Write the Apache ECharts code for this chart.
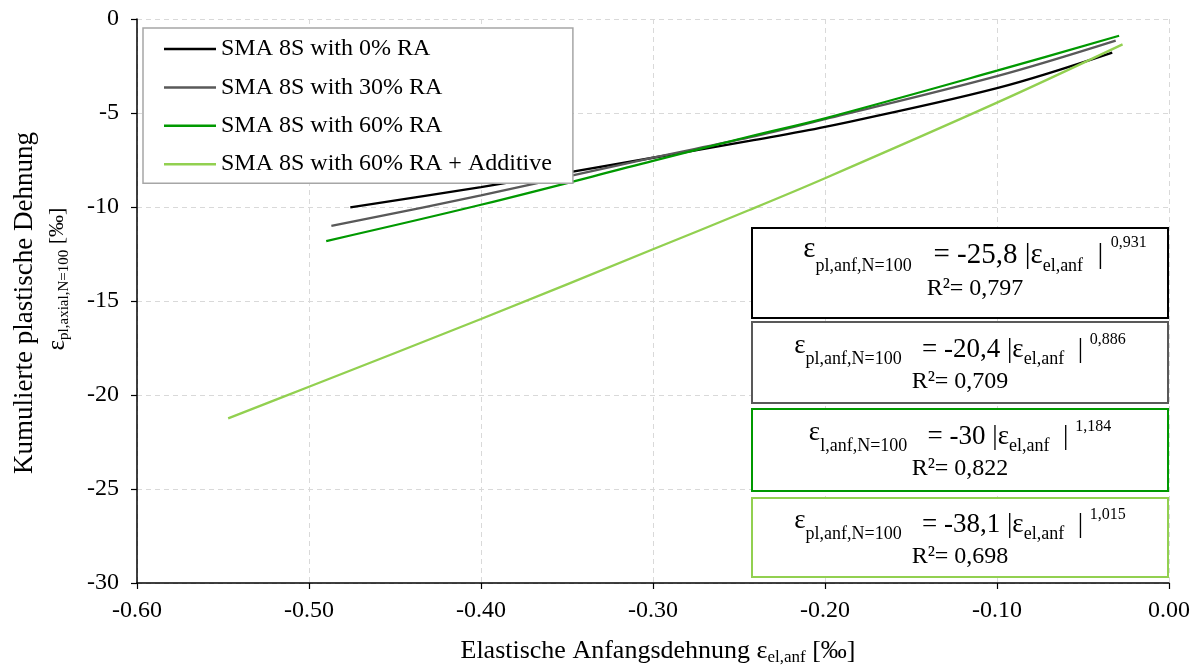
<!DOCTYPE html>
<html>
<head>
<meta charset="utf-8">
<script src="https://cdn.jsdelivr.net/npm/echarts@6/dist/echarts.min.js"></script>
<style>
  html, body { margin: 0; padding: 0; background: #ffffff; }
  #chart { width: 1200px; height: 666px; }
</style>
</head>
<body>
<div id="chart"></div>
<script>
// Fitted curves: initial elastic strain (x, ‰) vs. cumulative plastic strain after N=100 (y, ‰)
const seriesNames = [
  'SMA 8S with 0% RA',
  'SMA 8S with 30% RA',
  'SMA 8S with 60% RA',
  'SMA 8S with 60% RA + Additive'
];
const ra0X  = [-0.476, -0.40, -0.30, -0.244, -0.20, -0.10, -0.033];
const ra0Y  = [-10.02, -8.94, -7.38, -6.48, -5.74, -3.68, -1.79];
const ra30X = [-0.487, -0.40, -0.30, -0.244, -0.20, -0.10, -0.031];
const ra30Y = [-11.01, -9.38, -7.38, -6.30, -5.33, -3.04, -1.15];
const ra60X = [-0.490, -0.40, -0.30, -0.244, -0.20, -0.10, -0.029];
const ra60Y = [-11.81, -9.88, -7.55, -6.25, -5.28, -2.75, -0.89];
const raAddX = [-0.547, -0.50, -0.40, -0.30, -0.244, -0.20, -0.10, -0.027];
const raAddY = [-21.24, -19.56, -15.96, -12.25, -10.16, -8.47, -4.45, -1.35];

// Regression equations shown in the boxes
const eqLhsSub = ['pl,anf,N=100', 'pl,anf,N=100', 'l,anf,N=100', 'pl,anf,N=100'];
const eqCoef   = ['-25,8', '-20,4', '-30', '-38,1'];
const eqExp    = ['0,931', '0,886', '1,184', '1,015'];
const eqR2     = ['0,797', '0,709', '0,822', '0,698'];

const colors = ['#000000', '#595959', '#009900', '#92d050'];
const FONT = 'Liberation Serif';

const seriesX = [ra0X, ra30X, ra60X, raAddX];
const seriesY = [ra0Y, ra30Y, ra60Y, raAddY];

const chart = echarts.init(document.getElementById('chart'), null, { renderer: 'canvas' });

const series = seriesNames.map((name, k) => ({
  name,
  type: 'line',
  data: seriesX[k].map((x, i) => [x, seriesY[k][i]]),
  symbol: 'none',
  showSymbol: false,
  smooth: 0.35,
  lineStyle: { color: colors[k], width: 2.3 },
  itemStyle: { color: colors[k] },
  z: 3 + k
}));

// Equation boxes (right side of the plot)
const boxLayout = [
  { top: 228, h: 90, cx: 975, l1: 40, main: 29, textTop: 235 },
  { top: 322, h: 81, cx: 960, l1: 36, main: 27, textTop: 332 },
  { top: 409, h: 82, cx: 960, l1: 36, main: 27, textTop: 419 },
  { top: 498, h: 79, cx: 960, l1: 36, main: 27, textTop: 507 }
];

function eqRich(main, l1) {
  return {
    e1:  { fontFamily: FONT, fontSize: main, lineHeight: l1 - 8, verticalAlign: 'top', fill: '#000' },
    e2:  { fontFamily: FONT, fontSize: main, lineHeight: l1, verticalAlign: 'middle', fill: '#000' },
    m:   { fontFamily: FONT, fontSize: main, lineHeight: l1, verticalAlign: 'middle', fill: '#000' },
    sub: { fontFamily: FONT, fontSize: 18, lineHeight: l1 - 12, verticalAlign: 'bottom', fill: '#000' },
    sup: { fontFamily: FONT, fontSize: 16, lineHeight: 24, verticalAlign: 'top', fill: '#000' },
    r:   { fontFamily: FONT, fontSize: 24, lineHeight: 28, verticalAlign: 'middle', fill: '#000' }
  };
}

const eqGraphics = boxLayout.map((b, i) => ({
  type: 'group',
  children: [
    {
      type: 'rect',
      shape: { x: 752, y: b.top, width: 416, height: b.h },
      style: { fill: '#ffffff', stroke: colors[i], lineWidth: 2 },
      z: 10
    },
    {
      type: 'text',
      x: b.cx,
      y: b.textTop,
      z: 11,
      style: {
        text: '{e1|ε}{sub|' + eqLhsSub[i] + '}{m|   = ' + eqCoef[i] + ' |}{e2|ε}{sub|el,anf}{m|  | }{sup|' + eqExp[i] + '}\n{r|R²= ' + eqR2[i] + '}',
        align: 'center',
        verticalAlign: 'top',
        rich: eqRich(b.main, b.l1)
      }
    }
  ]
}));

const axisTitleGraphics = [
  {
    type: 'text',
    x: 25, y: 303,
    rotation: Math.PI / 2,
    style: {
      text: 'Kumulierte plastische Dehnung',
      fontFamily: FONT, fontSize: 27, fill: '#000',
      align: 'center', verticalAlign: 'middle'
    }
  },
  {
    type: 'text',
    x: 57, y: 279,
    rotation: Math.PI / 2,
    style: {
      text: '{e|ε}{s|pl,axial,N=100}{m| [‰]}',
      align: 'center', verticalAlign: 'middle',
      rich: {
        e: { fontFamily: FONT, fontSize: 25, lineHeight: 30, verticalAlign: 'middle', fill: '#000' },
        s: { fontFamily: FONT, fontSize: 15, lineHeight: 20, verticalAlign: 'bottom', fill: '#000' },
        m: { fontFamily: FONT, fontSize: 22, lineHeight: 30, verticalAlign: 'middle', fill: '#000' }
      }
    }
  },
  {
    type: 'text',
    x: 658, y: 651,
    style: {
      text: '{m|Elastische Anfangsdehnung ε}{s|el,anf}{m| [‰]}',
      align: 'center', verticalAlign: 'middle',
      rich: {
        m: { fontFamily: FONT, fontSize: 26, lineHeight: 30, verticalAlign: 'middle', fill: '#000' },
        s: { fontFamily: FONT, fontSize: 17, lineHeight: 20, verticalAlign: 'bottom', fill: '#000' }
      }
    }
  }
];

const option = {
  backgroundColor: '#ffffff',
  animation: false,
  grid: { left: 137, right: 31, top: 19, bottom: 83, containLabel: false },
  xAxis: {
    type: 'value',
    min: -0.6, max: 0, interval: 0.1,
    axisLine: { show: true, onZero: false, lineStyle: { color: '#000', width: 1.5 } },
    axisTick: { show: true, length: 6, lineStyle: { color: '#000', width: 1.2 } },
    axisLabel: {
      color: '#000', fontFamily: FONT, fontSize: 24, margin: 16,
      formatter: v => v.toFixed(2)
    },
    splitLine: { show: true, lineStyle: { color: '#d9d9d9', type: [5, 4], width: 1 } }
  },
  yAxis: {
    type: 'value',
    min: -30, max: 0, interval: 5,
    axisLine: { show: true, onZero: false, lineStyle: { color: '#000', width: 1.5 } },
    axisTick: { show: true, length: 6, lineStyle: { color: '#000', width: 1.2 } },
    axisLabel: { color: '#000', fontFamily: FONT, fontSize: 24, margin: 18 },
    splitLine: { show: true, lineStyle: { color: '#d9d9d9', type: [5, 4], width: 1 } }
  },
  legend: {
    orient: 'vertical',
    left: 143, top: 28,
    data: seriesNames,
    icon: 'rect',
    itemWidth: 52, itemHeight: 2.5,
    itemGap: 14.4,
    padding: [9, 21, 7, 21],
    backgroundColor: '#ffffff',
    borderColor: '#a6a6a6', borderWidth: 1.5,
    textStyle: { fontFamily: FONT, fontSize: 24, lineHeight: 24, color: '#000' },
    z: 12
  },
  series,
  graphic: [...eqGraphics, ...axisTitleGraphics]
};

chart.setOption(option);
</script>
</body>
</html>
